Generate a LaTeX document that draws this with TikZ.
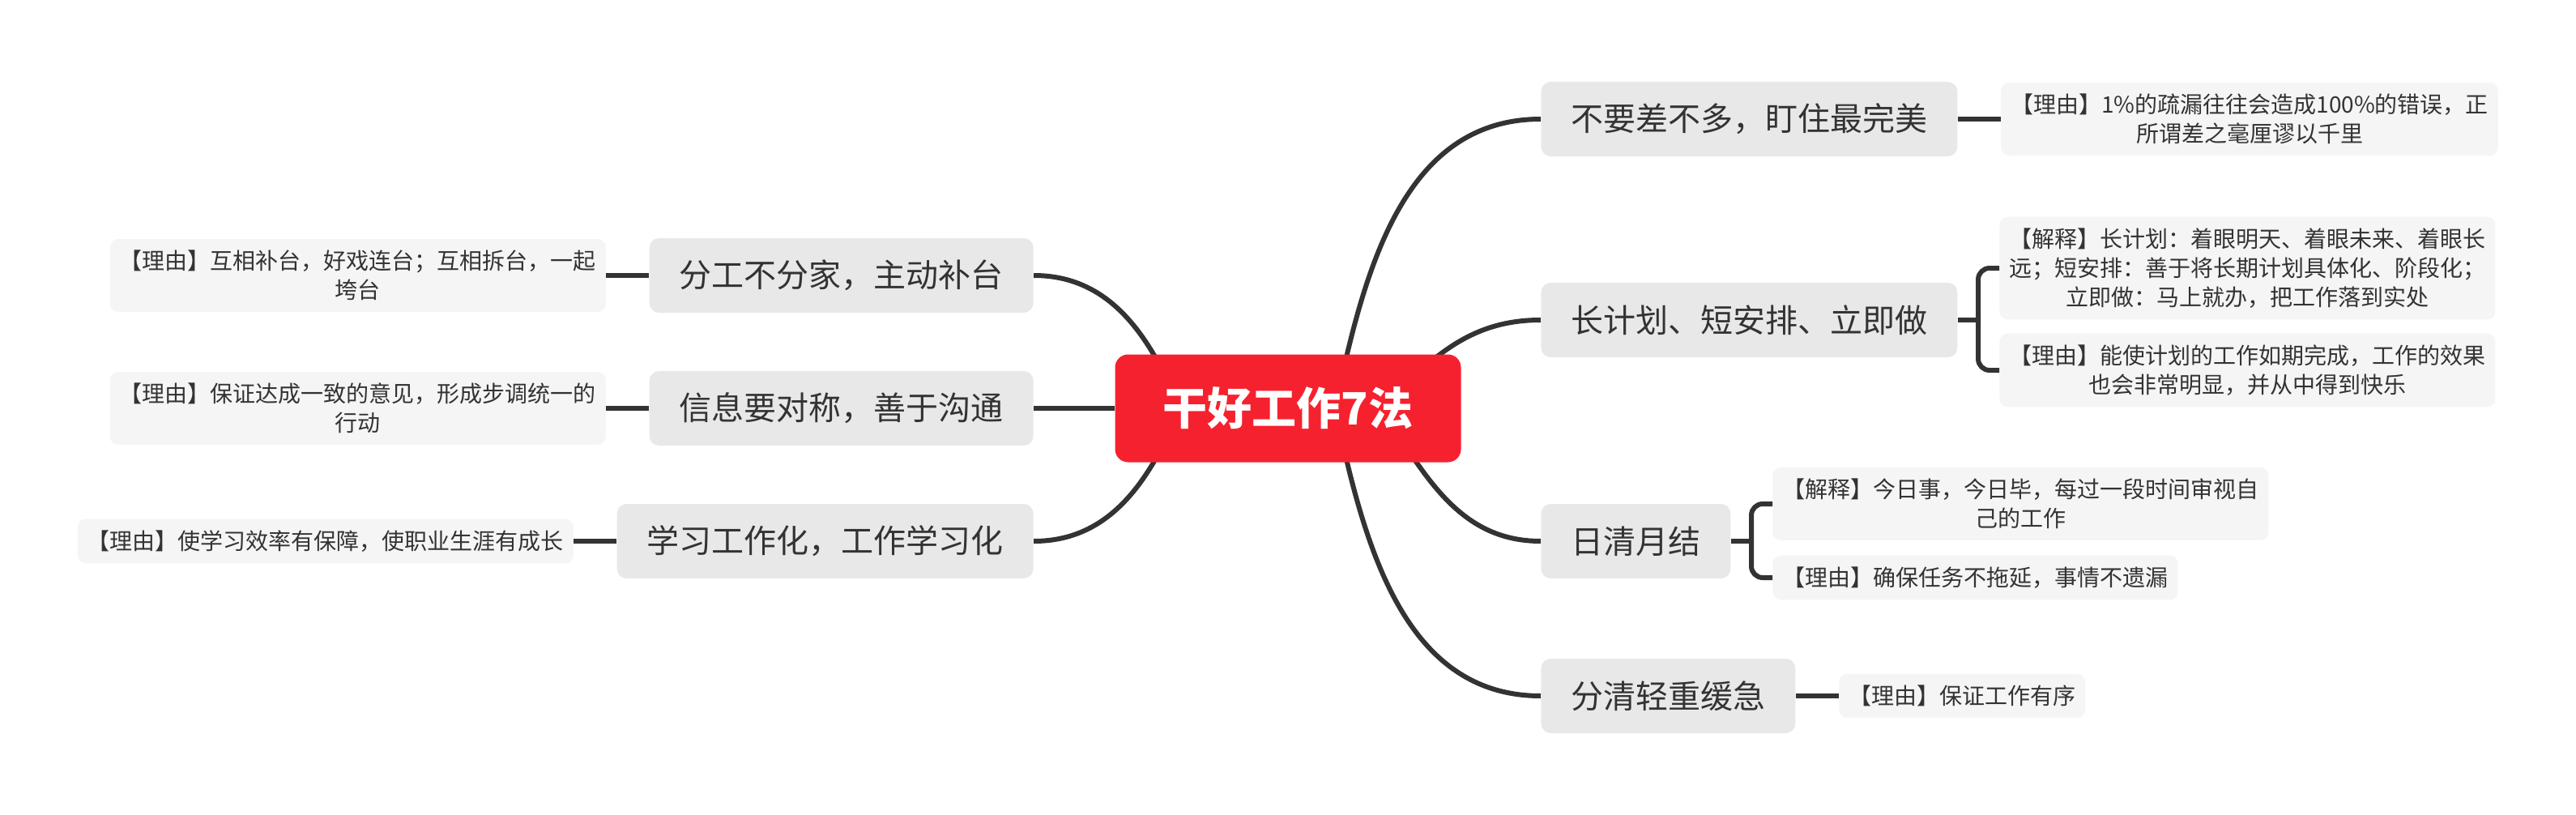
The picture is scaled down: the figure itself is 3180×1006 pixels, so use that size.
\documentclass[tikz,border=0pt]{standalone}
\usepackage{fontspec}
\setmainfont{Noto Sans CJK SC}
\usepackage{tikz}
\usetikzlibrary{positioning}
\usetikzlibrary{backgrounds}
\definecolor{rootred}{RGB}{246,33,47}
\definecolor{topicgray}{RGB}{232,232,232}
\definecolor{notegray}{RGB}{245,245,245}
\definecolor{inkgray}{RGB}{51,51,51}

\begin{document}
\begin{tikzpicture}[x=0.5pt,y=-0.5pt,
	rootnode/.style={rectangle,rounded corners=8pt,fill=rootred,text=white,font=\fontsize{27.5}{33}\selectfont\bfseries,minimum width=213.5pt,minimum height=66.5pt},
	pnode/.style={rectangle,rounded corners=6pt,fill=topicgray,text=inkgray,font=\fontsize{20}{24}\selectfont,inner xsep=18.5pt,minimum height=46pt},
	pleaf/.style={rectangle,rounded corners=5pt,fill=notegray,text=inkgray,font=\fontsize{14}{18}\selectfont,align=center,inner xsep=6pt,inner ysep=7pt},
	link/.style={draw=inkgray,line width=3pt},
	%link/.style={draw=inkgray,line width=2pt,line cap=round},
	]
	\useasboundingbox (0,0) rectangle (3180,1006);
	\node (z) [rootnode] at (1590,504) {干好工作7法};
	% right side
	\node (a) [pnode,anchor=west] at (1902,147) {不要差不多，盯住最完美};
	\node (b) [pnode,anchor=west] at (1902,395) {长计划、短安排、立即做};
	\node (c) [pnode,anchor=west] at (1902,668) {日清月结};
	\node (d) [pnode,anchor=west] at (1902,859) {分清轻重缓急};
	\node (a1) [pleaf,right=26.5pt of a] {【理由】1\%的疏漏往往会造成100\%的错误，正\\所谓差之毫厘谬以千里};
	\node (b1) [pleaf,anchor=west] at (2468,331) {【解释】长计划：着眼明天、着眼未来、着眼长\\远；短安排：善于将长期计划具体化、阶段化；\\立即做：马上就办，把工作落到实处};
	\node (b2) [pleaf,anchor=west] at (2468,457) {【理由】能使计划的工作如期完成，工作的效果\\也会非常明显，并从中得到快乐};
	\node (c1) [pleaf,anchor=west] at (2188,622) {【解释】今日事，今日毕，每过一段时间审视自\\己的工作};
	\node (c2) [pleaf,anchor=west] at (2188,713) {【理由】确保任务不拖延，事情不遗漏};
	\node (d1) [pleaf,right=26.5pt of d] {【理由】保证工作有序};
	% left side
	\node (e) [pnode,anchor=east] at (1276,340) {分工不分家，主动补台};
	\node (f) [pnode,anchor=east] at (1276,504) {信息要对称，善于沟通};
	\node (g) [pnode,anchor=east] at (1276,668) {学习工作化，工作学习化};
	\node (e1) [pleaf,left=26.5pt of e] {【理由】互相补台，好戏连台；互相拆台，一起\\垮台};
	\node (f1) [pleaf,left=26.5pt of f] {【理由】保证达成一致的意见，形成步调统一的\\行动};
	\node (g1) [pleaf,left=26.5pt of g] {【理由】使学习效率有保障，使职业生涯有成长};

	\coordinate (za) at (1648,504);
	\coordinate (zb) at (1705,504);
	\coordinate (zc) at (1457,504);
	\coordinate (bb) at (2442,395);
	\coordinate (cc) at (2162,668);
	\begin{scope}[on background layer]
		\draw[link] (za) to[out=78,in=180] (a.west);
		\draw[link] (zb) to[out=45,in=180] (b.west);
		\draw[link] (zb) to[out=-57,in=180] (c.west);
		\draw[link] (za) to[out=-78,in=180] (d.west);
		\draw[link] (zc) to[out=113,in=0] (e.east);
		\draw[link] (z.west) -- (f.east);
		\draw[link] (zc) to[out=-113,in=0] (g.east);
	\end{scope}
	\draw[link] (a.east) -- (a1.west);
	\draw[link] (b.east) -- (bb);
	\draw[link,rounded corners=7pt] (b1.west) -| (bb) |- (b2.west);
	\draw[link] (c.east) -- (cc);
	\draw[link,rounded corners=7pt] (c1.west) -| (cc) |- (c2.west);
	\draw[link] (d.east) -- (d1.west);
	\draw[link] (e.west) -- (e1.east);
	\draw[link] (f.west) -- (f1.east);
	\draw[link] (g.west) -- (g1.east);
\end{tikzpicture}
\end{document}
